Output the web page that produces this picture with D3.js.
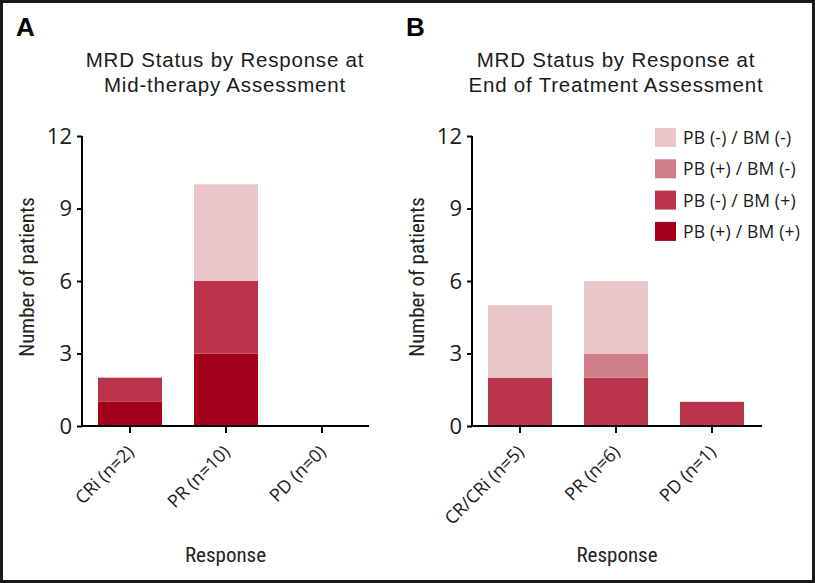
<!DOCTYPE html>
<html>
<head>
<meta charset="utf-8">
<script src="https://cdn.jsdelivr.net/npm/d3@7"></script>
<style>
  html, body { margin: 0; padding: 0; background: #fff; }
  svg { display: block; }
</style>
</head>
<body>
<svg id="chart" width="815" height="583"></svg>
<script>
// ---- Data ----
const seriesNames = ["PB (+) / BM (+)", "PB (-) / BM (+)", "PB (+) / BM (-)", "PB (-) / BM (-)"];
const seriesColors = ["#a1001b", "#b9344b", "#d07e88", "#eac5ca"];
const legendOrder = ["PB (-) / BM (-)", "PB (+) / BM (-)", "PB (-) / BM (+)", "PB (+) / BM (+)"];

const categoriesA = ["CRi (n=2)", "PR (n=10)", "PD (n=0)"];
const valuesA_PBposBMpos = [1, 3, 0];
const valuesA_PBnegBMpos = [1, 3, 0];
const valuesA_PBposBMneg = [0, 0, 0];
const valuesA_PBnegBMneg = [0, 4, 0];

const categoriesB = ["CR/CRi (n=5)", "PR (n=6)", "PD (n=1)"];
const valuesB_PBposBMpos = [0, 0, 0];
const valuesB_PBnegBMpos = [2, 2, 1];
const valuesB_PBposBMneg = [0, 1, 0];
const valuesB_PBnegBMneg = [3, 3, 0];

const yTicks = [0, 3, 6, 9, 12];
const titleA = ["MRD Status by Response at", "Mid-therapy Assessment"];
const titleB = ["MRD Status by Response at", "End of Treatment Assessment"];
const yLabel = "Number of patients";
const xLabel = "Response";

// ---- Drawing ----
const svg = d3.select("#chart");
const W = 815, H = 583;
const titleFont = "'Liberation Sans', Arial, sans-serif";
const labelFont = "'Open Sans', 'Noto Sans', sans-serif";
const narrowFont = "'Liberation Sans Narrow', 'Roboto Condensed', 'Liberation Sans', sans-serif";
const tickFont = "'Open Sans', 'Liberation Sans', sans-serif";

svg.append("rect").attr("x", 0).attr("y", 0).attr("width", W).attr("height", H).attr("fill", "#fff");

const y = d3.scaleLinear().domain([0, 12]).range([426, 136]);

function buildRows(categories, arrs) {
  return categories.map((c, i) => {
    const row = { cat: c };
    seriesNames.forEach((s, k) => row[s] = arrs[k][i]);
    return row;
  });
}

function panel(opts) {
  const g = svg.append("g");
  const x = d3.scaleBand().domain(opts.categories).range(opts.xRange)
    .paddingInner(1 / 3).paddingOuter(1 / 6);
  const rows = buildRows(opts.categories, opts.arrays);
  const stacked = d3.stack().keys(seriesNames)(rows);

  // bars
  g.selectAll("g.layer").data(stacked).join("g")
    .attr("class", "layer")
    .attr("fill", (d, i) => seriesColors[i])
    .selectAll("rect").data(d => d).join("rect")
    .attr("x", d => x(d.data.cat))
    .attr("width", x.bandwidth())
    .attr("y", d => y(d[1]))
    .attr("height", d => y(d[0]) - y(d[1]));

  // y axis
  const yAxis = d3.axisLeft(y).tickValues(yTicks).tickSize(5).tickPadding(5);
  const ya = g.append("g").attr("transform", `translate(${opts.xRange[0]},0)`).call(yAxis);
  ya.select(".domain").attr("stroke", "#000").attr("stroke-width", 2).attr("d", `M0,${y(12)}V${y(0)}`);
  ya.selectAll(".tick line").attr("stroke", "#000").attr("stroke-width", 2);
  ya.selectAll(".tick text").attr("font-family", tickFont).attr("font-size", 22).attr("fill", "#1a1a1a");

  // x axis
  const xAxis = d3.axisBottom(x).tickSize(7).tickFormat("");
  const xa = g.append("g").attr("transform", `translate(0,${y(0)})`).call(xAxis);
  xa.select(".domain").attr("stroke", "#000").attr("stroke-width", 2)
    .attr("d", `M${opts.xRange[0] - 1},0H${opts.xEnd}`);
  xa.selectAll(".tick line").attr("stroke", "#000").attr("stroke-width", 2);

  // rotated category labels
  g.selectAll("text.cat").data(opts.categories).join("text")
    .attr("class", "cat")
    .attr("transform", d => `translate(${x(d) + x.bandwidth() / 2 + 5},453) rotate(-45)`)
    .attr("text-anchor", "end")
    .attr("font-family", labelFont)
    .attr("font-size", 18)
    .attr("fill", "#1a1a1a")
    .text(d => d);

  // titles
  opts.title.forEach((t, i) => {
    g.append("text").attr("x", opts.titleX).attr("y", 67 + i * 25)
      .attr("text-anchor", "middle").attr("font-family", titleFont)
      .attr("font-size", 20.5).attr("letter-spacing", 0.8).attr("fill", "#1a1a1a").text(t);
  });

  // panel letter
  g.append("text").attr("x", opts.letterX).attr("y", 36)
    .attr("font-family", "'Liberation Sans', Arial, sans-serif").attr("font-weight", "bold")
    .attr("font-size", 26).attr("fill", "#000").text(opts.letter);

  // y label
  g.append("text").attr("transform", `translate(${opts.yLabelX},277) rotate(-90)`)
    .attr("text-anchor", "middle").attr("font-family", narrowFont)
    .attr("font-size", 21).attr("fill", "#222").text(yLabel);

  // x label
  g.append("text").attr("x", (opts.xRange[0] + opts.xEnd) / 2).attr("y", 562)
    .attr("text-anchor", "middle").attr("font-family", narrowFont)
    .attr("font-size", 21).attr("fill", "#222").text(xLabel);
  return g;
}

panel({
  categories: categoriesA,
  arrays: [valuesA_PBposBMpos, valuesA_PBnegBMpos, valuesA_PBposBMneg, valuesA_PBnegBMneg],
  xRange: [82, 370], xEnd: 369, title: titleA, titleX: 225, letter: "A", letterX: 16, yLabelX: 34
});
panel({
  categories: categoriesB,
  arrays: [valuesB_PBposBMpos, valuesB_PBnegBMpos, valuesB_PBposBMneg, valuesB_PBnegBMneg],
  xRange: [472, 760], xEnd: 762, title: titleB, titleX: 616, letter: "B", letterX: 406, yLabelX: 424
});

// legend
const color = d3.scaleOrdinal().domain(seriesNames).range(seriesColors);
const lg = svg.append("g").attr("transform", "translate(655,128)");
const li = lg.selectAll("g").data(legendOrder).join("g")
  .attr("transform", (d, i) => `translate(0,${i * 31.3})`);
li.append("rect").attr("width", 21).attr("height", 19).attr("fill", d => color(d));
li.append("text").attr("x", 28).attr("y", 16).attr("font-family", labelFont)
  .attr("font-size", 17.5).attr("letter-spacing", 0.2).attr("fill", "#1a1a1a").text(d => d);

// outer frame
svg.append("rect").attr("x", 1.5).attr("y", 1.5).attr("width", W - 3).attr("height", H - 3)
  .attr("fill", "none").attr("stroke", "#1a1a1a").attr("stroke-width", 3);
</script>
</body>
</html>
